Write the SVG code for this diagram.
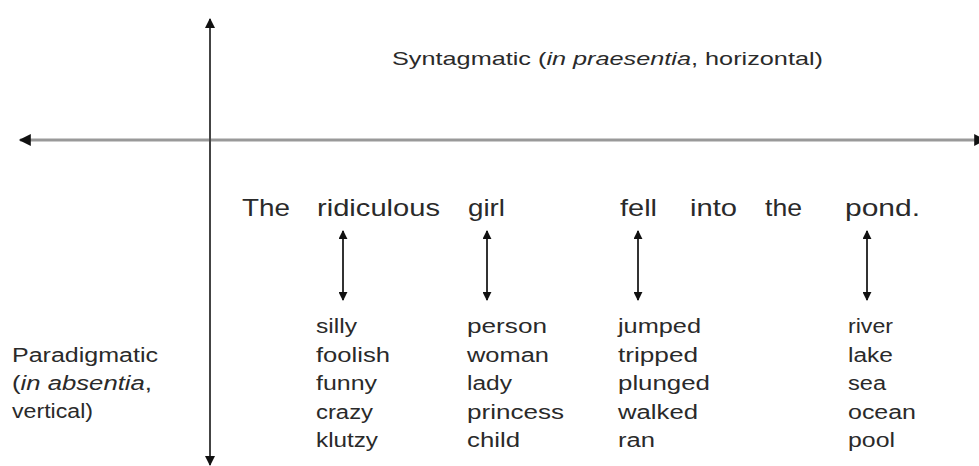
<svg xmlns="http://www.w3.org/2000/svg" width="979" height="466" viewBox="0 0 979 466">
<defs>
<style>
.t{font-family:"Liberation Sans",Arial,sans-serif;fill:#2a2a2a}
.w{font-size:24px}
.l{font-size:20px}
.h{font-size:19px}
.ax{stroke:#444;stroke-width:2;fill:none}
.axh{stroke:#999;stroke-width:3;fill:none}
.sa{stroke:#333;stroke-width:2;fill:none}
</style>
<marker id="ah" viewBox="0 0 10 10" refX="9" refY="5" markerWidth="10" markerHeight="10" markerUnits="userSpaceOnUse" orient="auto-start-reverse">
<path d="M0,0 L10,5 L0,10 z" fill="#111"/>
</marker>
<marker id="ahs" viewBox="0 0 10 10" refX="9" refY="5" markerWidth="9" markerHeight="9" markerUnits="userSpaceOnUse" orient="auto-start-reverse">
<path d="M0,0 L10,5 L0,10 z" fill="#111"/>
</marker>
<marker id="ahh" viewBox="0 0 10 10" refX="9" refY="5" markerWidth="16" markerHeight="12" markerUnits="userSpaceOnUse" orient="auto-start-reverse">
<path d="M0,0 L10,5 L0,10 z" fill="#111"/>
</marker>
</defs>
<rect width="979" height="466" fill="#fff"/>
<g id="connectors">
<line class="axh" x1="20" y1="140" x2="985" y2="140" marker-start="url(#ahh)" marker-end="url(#ahh)"/>
<line class="ax" x1="210" y1="19" x2="210" y2="465" marker-start="url(#ah)" marker-end="url(#ah)"/>
<line class="sa" x1="343" y1="231" x2="343" y2="300" marker-start="url(#ahs)" marker-end="url(#ahs)"/>
<line class="sa" x1="487" y1="231" x2="487" y2="300" marker-start="url(#ahs)" marker-end="url(#ahs)"/>
<line class="sa" x1="638" y1="231" x2="638" y2="300" marker-start="url(#ahs)" marker-end="url(#ahs)"/>
<line class="sa" x1="867" y1="231" x2="867" y2="300" marker-start="url(#ahs)" marker-end="url(#ahs)"/>
</g>
<g id="title">
<text class="t h" x="392" y="65" textLength="431" lengthAdjust="spacingAndGlyphs">Syntagmatic (<tspan font-style="italic">in praesentia</tspan>, horizontal)</text>
</g>
<g id="paradigmatic">
<text class="t l" x="12" y="362" textLength="146" lengthAdjust="spacingAndGlyphs">Paradigmatic</text>
<text class="t l" x="12" y="390" textLength="140" lengthAdjust="spacingAndGlyphs">(<tspan font-style="italic">in absentia</tspan>,</text>
<text class="t l" x="12" y="418" textLength="81" lengthAdjust="spacingAndGlyphs">vertical)</text>
</g>
<g id="sentence">
<text class="t w" x="242" y="216" textLength="48" lengthAdjust="spacingAndGlyphs">The</text>
<text class="t w" x="317" y="216" textLength="123" lengthAdjust="spacingAndGlyphs">ridiculous</text>
<text class="t w" x="468" y="216" textLength="37" lengthAdjust="spacingAndGlyphs">girl</text>
<text class="t w" x="620" y="216" textLength="37" lengthAdjust="spacingAndGlyphs">fell</text>
<text class="t w" x="690" y="216" textLength="47" lengthAdjust="spacingAndGlyphs">into</text>
<text class="t w" x="765" y="216" textLength="37" lengthAdjust="spacingAndGlyphs">the</text>
<text class="t w" x="845" y="216" textLength="75" lengthAdjust="spacingAndGlyphs">pond.</text>
</g>
<g id="col-ridiculous">
<text class="t l" x="316" y="333" textLength="41" lengthAdjust="spacingAndGlyphs">silly</text>
<text class="t l" x="316" y="361.5" textLength="74" lengthAdjust="spacingAndGlyphs">foolish</text>
<text class="t l" x="316" y="390" textLength="61" lengthAdjust="spacingAndGlyphs">funny</text>
<text class="t l" x="316" y="418.5" textLength="57" lengthAdjust="spacingAndGlyphs">crazy</text>
<text class="t l" x="316" y="447" textLength="62" lengthAdjust="spacingAndGlyphs">klutzy</text>
</g>
<g id="col-girl">
<text class="t l" x="467" y="333" textLength="80" lengthAdjust="spacingAndGlyphs">person</text>
<text class="t l" x="467" y="361.5" textLength="82" lengthAdjust="spacingAndGlyphs">woman</text>
<text class="t l" x="467" y="390" textLength="45" lengthAdjust="spacingAndGlyphs">lady</text>
<text class="t l" x="467" y="418.5" textLength="97" lengthAdjust="spacingAndGlyphs">princess</text>
<text class="t l" x="467" y="447" textLength="53" lengthAdjust="spacingAndGlyphs">child</text>
</g>
<g id="col-fell">
<text class="t l" x="618" y="333" textLength="83" lengthAdjust="spacingAndGlyphs">jumped</text>
<text class="t l" x="618" y="361.5" textLength="80" lengthAdjust="spacingAndGlyphs">tripped</text>
<text class="t l" x="618" y="390" textLength="92" lengthAdjust="spacingAndGlyphs">plunged</text>
<text class="t l" x="618" y="418.5" textLength="80" lengthAdjust="spacingAndGlyphs">walked</text>
<text class="t l" x="618" y="447" textLength="37" lengthAdjust="spacingAndGlyphs">ran</text>
</g>
<g id="col-pond">
<text class="t l" x="848" y="333" textLength="45" lengthAdjust="spacingAndGlyphs">river</text>
<text class="t l" x="848" y="361.5" textLength="45" lengthAdjust="spacingAndGlyphs">lake</text>
<text class="t l" x="848" y="390" textLength="38" lengthAdjust="spacingAndGlyphs">sea</text>
<text class="t l" x="848" y="418.5" textLength="68" lengthAdjust="spacingAndGlyphs">ocean</text>
<text class="t l" x="848" y="447" textLength="47" lengthAdjust="spacingAndGlyphs">pool</text>
</g>
</svg>
